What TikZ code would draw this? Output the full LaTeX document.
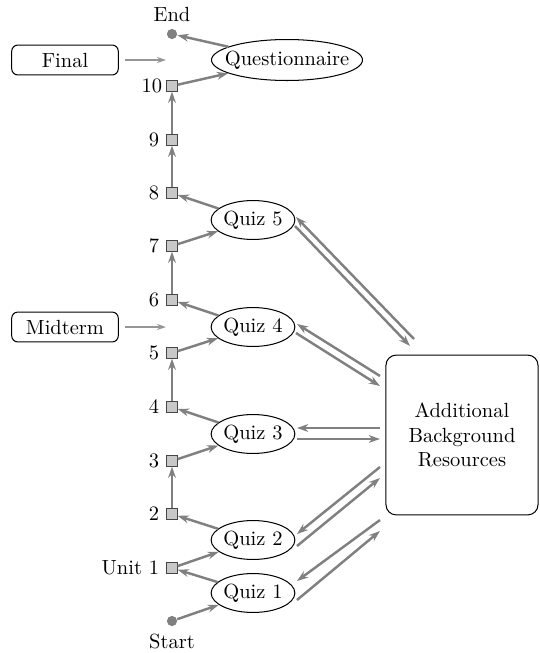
\documentclass[tikz,border=0pt]{standalone}
\usetikzlibrary{shapes.geometric,arrows.meta}
\definecolor{arrgray}{RGB}{128,128,128}
\definecolor{thingray}{RGB}{150,150,150}
\definecolor{sqfill}{RGB}{200,200,200}
\definecolor{sqdraw}{RGB}{70,70,70}
\begin{document}
\begin{tikzpicture}[x=0.488pt,y=-0.488pt,
  arr/.style={draw=arrgray,line width=1.2pt,-{Stealth[length=5.5pt,width=3.8pt]}},
  thinarr/.style={draw=thingray,line width=0.6pt,-{Stealth[length=4.5pt,width=3pt]}},
  unitsq/.style={rectangle,draw=sqdraw,fill=sqfill,line width=0.5pt,minimum size=5pt,inner sep=0pt},
  quiz/.style={ellipse,draw,line width=0.5pt,inner sep=0pt,minimum width=37.6pt,minimum height=19pt},
  sidebox/.style={rectangle,rounded corners=3pt,draw,line width=0.5pt,minimum width=52pt,minimum height=14.6pt,inner sep=0pt},
  dot/.style={circle,fill=arrgray,minimum size=5pt,inner sep=0pt}]
\useasboundingbox (0,0) rectangle (540,653);
% units
\node[unitsq,label={left:Unit 1}] (u1) at (172,568) {};
\node[unitsq,label={left:2}] (u2) at (172,514) {};
\node[unitsq,label={left:3}] (u3) at (172,461) {};
\node[unitsq,label={left:4}] (u4) at (172,407) {};
\node[unitsq,label={left:5}] (u5) at (172,353) {};
\node[unitsq,label={left:6}] (u6) at (172,300) {};
\node[unitsq,label={left:7}] (u7) at (172,246) {};
\node[unitsq,label={left:8}] (u8) at (172,193) {};
\node[unitsq,label={left:9}] (u9) at (172,140) {};
\node[unitsq,label={[xshift=1.5pt]left:10}] (u10) at (172,86) {};
% quizzes
\node[quiz] (q1) at (253,593) {Quiz 1};
\node[quiz] (q2) at (253,540) {Quiz 2};
\node[quiz] (q3) at (253,434) {Quiz 3};
\node[quiz] (q4) at (253,327) {Quiz 4};
\node[quiz] (q5) at (253,220) {Quiz 5};
\node[ellipse,draw,line width=0.5pt,inner sep=0pt,minimum width=73.7pt,minimum height=20pt] (qn) at (287,60) {\makebox[0pt]{Questionnaire}};
% start/end
\node[dot,label={[label distance=0pt]below:Start}] (start) at (172,621) {};
\node[dot,label={[label distance=0pt]above:End}] (end) at (172,34) {};
% side boxes
\node[sidebox] (final) at (65,60) {Final};
\node[sidebox] (mid) at (65,327) {Midterm};
\coordinate (fa) at (166,60);
\coordinate (ma) at (166,327);
\draw[thinarr,shorten <=3pt] (final) -- (fa);
\draw[thinarr,shorten <=3pt] (mid) -- (ma);
% resources
\node[rectangle,rounded corners=5pt,draw,line width=0.5pt,minimum width=74.2pt,minimum height=78pt,align=center,inner sep=0pt] (res) at (462,435) {Additional\\Background\\Resources};
% main chain
\draw[arr] (start) -- (q1);
\draw[arr] (q1) -- (u1);
\draw[arr] (u1) -- (q2);
\draw[arr] (q2) -- (u2);
\draw[arr] (u2) -- (u3);
\draw[arr] (u3) -- (q3);
\draw[arr] (q3) -- (u4);
\draw[arr] (u4) -- (u5);
\draw[arr] (u5) -- (q4);
\draw[arr] (q4) -- (u6);
\draw[arr] (u6) -- (u7);
\draw[arr] (u7) -- (q5);
\draw[arr] (q5) -- (u8);
\draw[arr] (u8) -- (u9);
\draw[arr] (u9) -- (u10);
\draw[arr] (u10) -- (qn);
\draw[arr] (qn) -- (end);
% resource links
\coordinate (r5a) at (414,339); \coordinate (q5a) at (296,217);
\coordinate (q5b) at (295,226); \coordinate (r5b) at (410,346);
\coordinate (r4a) at (380,376); \coordinate (q4a) at (297,324);
\coordinate (q4b) at (296,333); \coordinate (r4b) at (380,386);
\coordinate (r3a) at (380,428); \coordinate (q3a) at (297,428);
\coordinate (q3b) at (297,439); \coordinate (r3b) at (380,439);
\coordinate (r2a) at (380,467); \coordinate (q2a) at (297,534);
\coordinate (q2b) at (297,546); \coordinate (r2b) at (380,478);
\coordinate (r1a) at (380,520); \coordinate (q1a) at (297,581);
\coordinate (q1b) at (297,600); \coordinate (r1b) at (380,531);
\draw[arr] (r5a) -- (q5a); \draw[arr] (q5b) -- (r5b);
\draw[arr] (r4a) -- (q4a); \draw[arr] (q4b) -- (r4b);
\draw[arr] (r3a) -- (q3a); \draw[arr] (q3b) -- (r3b);
\draw[arr] (r2a) -- (q2a); \draw[arr] (q2b) -- (r2b);
\draw[arr] (r1a) -- (q1a); \draw[arr] (q1b) -- (r1b);
\end{tikzpicture}
\end{document}
